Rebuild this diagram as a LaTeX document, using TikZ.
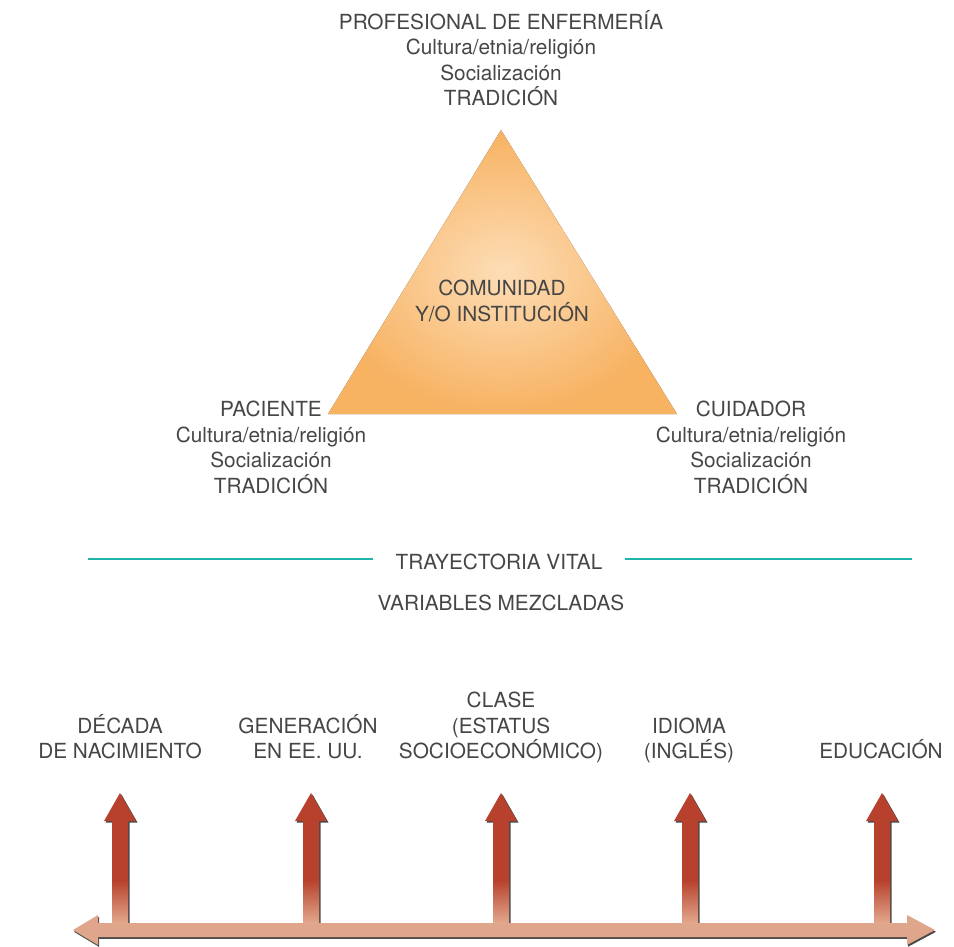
\documentclass[tikz,border=0pt]{standalone}
\usepackage{fontspec}
\setmainfont{TeX Gyre Heros}
\usetikzlibrary{calc}

\definecolor{gristexto}{HTML}{464646}
\definecolor{turquesa}{HTML}{1FB5A8}
\definecolor{naranjaborde}{HTML}{F7B262}
\definecolor{naranjacentro}{HTML}{FDDDB6}
\definecolor{rojoflecha}{HTML}{B7412C}
\definecolor{rojoclaro}{HTML}{E2A88D}
\definecolor{salmon}{HTML}{DFA68C}
\definecolor{sombra}{HTML}{4A4A4A}

\tikzset{
  pics/flecha/.style={code={
    % sombra de la flecha
    \fill[sombra, shift={(1.5,1.5)}] (0,-130) -- (16,-102) -- (8,-102) -- (8,0)
      -- (-8,0) -- (-8,-102) -- (-16,-102) -- cycle;
    % cuerpo de la flecha
    \fill[rojoflecha] (0,-130) -- (16,-102) -- (8,-102) -- (8,0)
      -- (-8,0) -- (-8,-102) -- (-16,-102) -- cycle;
    % degradado en la parte baja
    \shade[top color=rojoflecha, bottom color=rojoclaro] (-8,-43) rectangle (8,0);
  }}
}

\begin{document}
\begin{tikzpicture}[x=0.5pt, y=-0.5pt,
  texto/.style={font=\fontsize{10.4}{12.75}\selectfont, text=gristexto, align=center, inner sep=0pt},
  etiquetavar/.style={texto, anchor=south, text depth=0pt}]

  \useasboundingbox (0,0) rectangle (954,947);

  % Triangulo
  \coordinate (arriba) at (501,130);
  \coordinate (izquierda) at (328,414);
  \coordinate (derecha) at (677,414);
  \fill[sombra, shift={(1.3,1.3)}] (arriba) -- (derecha) -- (izquierda) -- cycle;
  \shade[inner color=naranjacentro, outer color=naranjaborde] (arriba) -- (derecha) -- (izquierda) -- cycle;
  \node[texto, anchor=north] (comunidad) at (502,280) {COMUNIDAD\\Y/O INSTITUCIÓN};

  % Vertices
  \node[texto, anchor=north] (enfermeria) at (501,10) {PROFESIONAL DE ENFERMERÍA\\Cultura/etnia/religión\\Socialización\\TRADICIÓN};
  \node[texto, anchor=north] (paciente) at (271,401) {PACIENTE\\Cultura/etnia/religión\\Socialización\\TRADICIÓN};
  \node[texto, anchor=north] (cuidador) at (751,401) {CUIDADOR\\Cultura/etnia/religión\\Socialización\\TRADICIÓN};

  % Trayectoria vital
  \node[texto, anchor=base, inner xsep=11pt] (trayectoria) at (499,569) {TRAYECTORIA VITAL};
  \coordinate (lineaizq) at (88,559);
  \coordinate (lineader) at (912,559);
  \draw[turquesa, line width=1.4pt] (lineaizq) -- (lineaizq -| trayectoria.west);
  \draw[turquesa, line width=1.4pt] (trayectoria.east |- lineader) -- (lineader);
  \node[texto, anchor=base] (variables) at (501,610) {VARIABLES MEZCLADAS};

  % Variables
  \node[etiquetavar] (decada) at (120,759) {DÉCADA\\DE NACIMIENTO};
  \node[etiquetavar] (generacion) at (308,759) {GENERACIÓN\\EN EE. UU.};
  \node[etiquetavar] (clase) at (501,759) {CLASE\\(ESTATUS\\SOCIOECONÓMICO)};
  \node[etiquetavar] (idioma) at (689,759) {IDIOMA\\(INGLÉS)};
  \node[etiquetavar] (educacion) at (881,759) {EDUCACIÓN};

  % Flechas verticales
  \pic at (120,923) {flecha};
  \pic at (311,923) {flecha};
  \pic at (501,923) {flecha};
  \pic at (690,923) {flecha};
  \pic at (882,923) {flecha};

  % Flecha horizontal doble
  \fill[sombra, shift={(1,1.8)}] (73,930) -- (98,915) -- (98,923) -- (907,923) -- (907,915)
    -- (935,930) -- (907,945) -- (907,937) -- (98,937) -- (98,945) -- cycle;
  \fill[salmon] (73,930) -- (98,915) -- (98,923) -- (907,923) -- (907,915)
    -- (935,930) -- (907,945) -- (907,937) -- (98,937) -- (98,945) -- cycle;

\end{tikzpicture}
\end{document}
